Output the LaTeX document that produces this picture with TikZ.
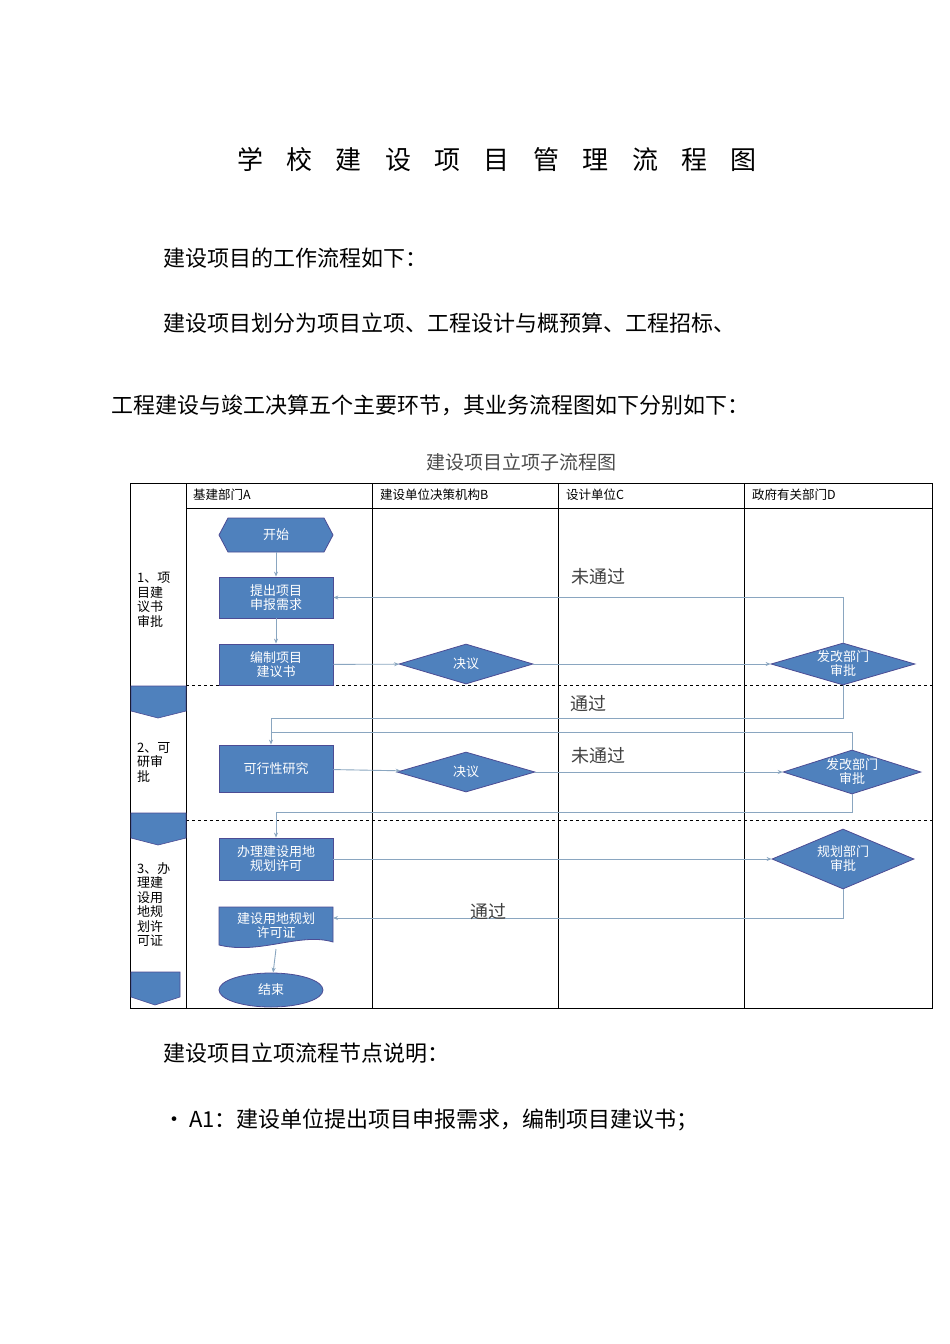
\documentclass[tikz,border=0pt]{standalone}
\usepackage{fontspec}
\setmainfont{Noto Sans CJK SC}
\newfontfamily\cjk{Noto Sans CJK SC}
\usetikzlibrary{shapes.geometric,shapes.misc,arrows.meta}
\begin{document}
\begin{tikzpicture}[x=1pt,y=-1pt,
  blk/.style={draw=blue!40!black!70,fill=bfill,line width=0.8pt,text=white,font=\fontsize{13}{14}\selectfont,align=center,inner sep=1pt},
  rbox/.style={blk,rectangle,minimum width=114pt},
  dia/.style={blk,diamond,aspect=3.3,inner sep=0pt},
  con/.style={draw=lcol,line width=0.9pt},
  arr/.style={con,-{Stealth[length=5pt,width=4pt]}},
  grid/.style={line width=0.8pt,draw=black},
  body/.style={font=\fontsize{22}{24}\selectfont,anchor=west},
  lab/.style={font=\fontsize{18}{20}\selectfont,text=black!75},
  side/.style={font=\fontsize{13}{14.5}\selectfont,align=left,anchor=north west,inner sep=0pt},
  hdr/.style={font=\fontsize{12.5}{14}\selectfont,anchor=west,inner sep=0pt},
  pent/.style={fill=bfill,draw=blue!40!black!70,line width=0.6pt}]
\definecolor{bfill}{HTML}{4F81BD}
\definecolor{lcol}{HTML}{8AA6C0}
\useasboundingbox (0,0) rectangle (950,1344);
\fill[white] (0,0) rectangle (950,1344);
% texts
\node (title) at (497,160) {\fontsize{26}{28}\selectfont 学\hspace{0.9em}校\hspace{0.9em}建\hspace{0.9em}设\hspace{0.9em}项\hspace{0.9em}目\hspace{0.9em}管\hspace{0.9em}理\hspace{0.9em}流\hspace{0.9em}程\hspace{0.9em}图};
\node[body] (t1) at (160,258) {建设项目的工作流程如下：};
\node[body] (t2) at (160,323) {建设项目划分为项目立项、工程设计与概预算、工程招标、};
\node[body] (t3) at (108,405) {工程建设与竣工决算五个主要环节，其业务流程图如下分别如下：};
\node[font=\fontsize{19}{20}\selectfont,text=black!70] (ct) at (521,462) {建设项目立项子流程图};
\node[body] (t4) at (160,1053) {建设项目立项流程节点说明：};
\node[body] (t5) at (160,1120) {•\,A1：建设单位提出项目申报需求，编制项目建议书；};
% grid
\draw[grid] (130,483) rectangle (932,1008);
\draw[grid] (186,483) -- (186,1008);
\foreach \x in {372,558,744} \draw[grid] (\x,483) -- (\x,1008);
\draw[grid] (186,508) -- (932,508);
\draw[dashed,line width=0.8pt] (186,685) -- (932,685);
\draw[dashed,line width=0.8pt] (186,820) -- (932,820);
\node[hdr] (h1) at (193,495) {基建部门A};
\node[hdr] (h2) at (380,495) {建设单位决策机构B};
\node[hdr] (h3) at (566,495) {设计单位C};
\node[hdr] (h4) at (752,495) {政府有关部门D};
\node[side] (s1) at (137,572) {1、项\\目建\\议书\\审批};
\node[side] (s2) at (137,742) {2、可\\研审\\批};
\node[side] (s3) at (137,862) {3、办\\理建\\设用\\地规\\划许\\可证};
\path[pent] (131,686) -- (186,686) -- (186,711) -- (158,718) -- (131,711) -- cycle;
\path[pent] (131,813) -- (186,813) -- (186,838) -- (158,845) -- (131,838) -- cycle;
\path[pent] (131,972) -- (180,972) -- (180,997) -- (155,1005) -- (131,997) -- cycle;
% nodes
\path[blk] (219,535) -- (228,518) -- (324,518) -- (333,535) -- (324,552) -- (228,552) -- cycle;
\node[text=white,font=\fontsize{13}{14}\selectfont] (start) at (276,535) {开始};
\coordinate (startb) at (276,552);
\node[rbox,minimum height=41pt] (p1) at (276,597.5) {提出项目\\申报需求};
\node[rbox,minimum height=41pt] (p2) at (276,664.5) {编制项目\\建议书};
\node[dia,minimum width=134pt,minimum height=40pt] (d1) at (466,664) {决议};
\node[dia,minimum width=144pt,minimum height=42pt] (g1) at (843,664) {发改部门\\审批};
\node[rbox,minimum height=47pt] (p3) at (276,768.5) {可行性研究};
\node[dia,minimum width=138pt,minimum height=40pt] (d2) at (466,772) {决议};
\node[dia,minimum width=136pt,minimum height=44pt] (g2) at (852,772) {发改部门\\审批};
\node[rbox,minimum height=42pt] (p4) at (276,859) {办理建设用地\\规划许可};
\node[dia,minimum width=142pt,minimum height=60pt] (g3) at (843,859) {规划部门\\审批};
\path[blk] (219,907) -- (333,907) -- (333,942) .. controls (300,932) and (260,955) .. (219,945) -- cycle;
\node[text=white,font=\fontsize{13}{14}\selectfont,align=center] (p5) at (276,926) {建设用地规划\\许可证};
\coordinate (p5r) at (333,918);
\coordinate (p5b) at (276,949);
\node[blk,ellipse,minimum width=104pt,minimum height=34pt] (end) at (271,990) {结束};
% connectors
\draw[arr] (startb) -- (p1);
\draw[arr] (p1) -- (p2);
\draw[arr] (p2) -- (d1);
\draw[arr] (d1) -- (g1);
\draw[arr] (g1.north) |- (p1.east);
\coordinate (c1) at (271,718);
\draw[con] (g1.south) -- (843,718) -- (c1);
\draw[arr] (c1) -- (p3.north -| c1);
\draw[arr] (p3) -- (d2);
\draw[arr] (d2) -- (g2);
\coordinate (c2) at (271,732);
\draw[con] (g2.north) |- (c2);
\coordinate (c3) at (276,812);
\draw[con] (g2.south) |- (c3);
\draw[arr] (c3) -- (p4);
\draw[arr] (p4) -- (g3);
\draw[arr] (g3.south) |- (p5r);
\draw[arr] (p5b) -- (end);
\node[lab] (l1) at (598,577) {未通过};
\node[lab] (l2) at (588,704) {通过};
\node[lab] (l3) at (598,756) {未通过};
\node[lab] (l4) at (488,912) {通过};
\end{tikzpicture}
\end{document}
